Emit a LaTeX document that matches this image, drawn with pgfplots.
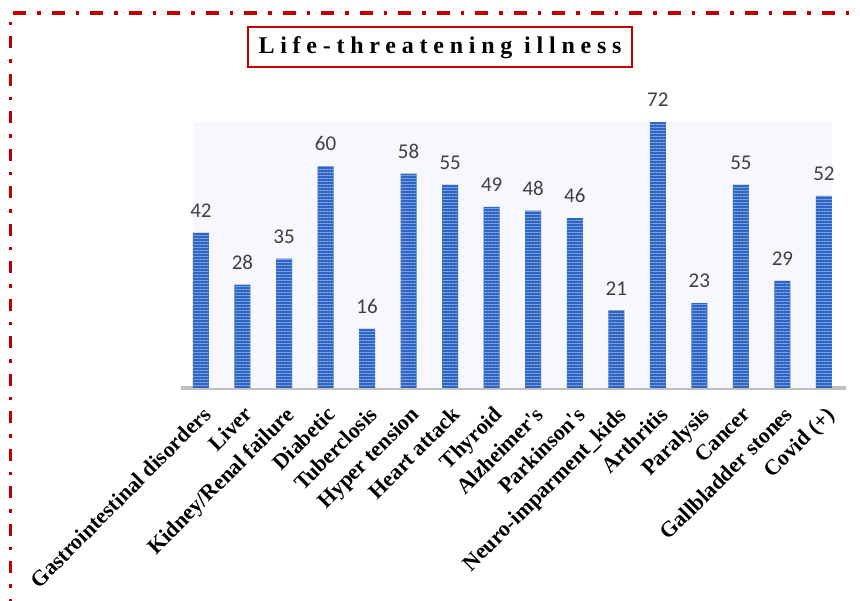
\documentclass[border=0pt]{standalone}
\usepackage{fontspec}
\setmainfont{Liberation Serif}
\newfontfamily\calib{Carlito}
\usepackage{pgfplots}
\pgfplotsset{compat=1.18}
\usetikzlibrary{patterns.meta}
\definecolor{bred}{HTML}{C00000}
\definecolor{barblue}{HTML}{2F66C2}
\definecolor{barlight}{HTML}{7FA5E4}
\definecolor{pale}{HTML}{F7F8FD}
\definecolor{basegray}{HTML}{BFBFBF}
\definecolor{valgray}{HTML}{404040}
\begin{document}
\begin{tikzpicture}[x=1pt,y=1pt]
\path[use as bounding box] (0pt,0pt) rectangle (860pt,601pt);
% dash-dot frame (top and left)
\draw[bred, line width=3.3pt, dash pattern=on 13pt off 11pt on 3.5pt off 11pt]
  (13pt,588pt) -- (862pt,588pt);
\draw[bred, line width=3.3pt, dash pattern=on 3.5pt off 11pt on 12pt off 11pt]
  (10.7pt,579pt) -- (10.7pt,-5pt);
% title
\node[draw=bred, line width=2pt, minimum width=384pt, minimum height=40pt, inner sep=0pt]
  at (440pt,553.5pt) {\fontsize{24}{28}\selectfont\bfseries\addfontfeature{LetterSpace=24}Life-threatening illness};
\begin{axis}[
  at={(181pt,213pt)}, anchor=south west,
  scale only axis, width=665pt, height=266pt,
  xmin=-0.48, xmax=15.53, ymin=0, ymax=72,
  axis y line=none, axis x line=bottom,
  x axis line style={draw=basegray, line width=3.5pt, -},
  xtick={0,...,15}, major tick length=0pt,
  xticklabels={{Gastrointestinal disorders},{Liver},{Kidney/Renal failure},{Diabetic},{Tuberclosis},{Hyper tension},{Heart attack},{Thyroid},{Alzheimer\textquotesingle s},{Parkinson\textquotesingle s},{Neuro-imparment\_kids},{Arthritis},{Paralysis},{Cancer},{Gallbladder stones},{Covid (+)}},
  xticklabel style={font=\fontsize{22}{25}\selectfont\bfseries, inner sep=0pt, yshift=-17pt, xshift=0.5pt, rotate=45, anchor=north east},
  ytick=\empty,
  clip=false,
  ybar, bar width=16pt,
  nodes near coords,
  /pgf/number format/assume math mode=true,
  every node near coord/.append style={font=\calib\fontsize{21}{24}\selectfont, text=valgray, inner sep=0pt, anchor=south, yshift=15pt},
]
\fill[pale] (axis cs:-0.193,0) rectangle (axis cs:15.193,72);
\addplot[draw=none, fill=barblue, postaction={pattern={Lines[angle=0, distance=3pt, line width=0.8pt]}, pattern color=barlight}]
  coordinates {(0,42) (1,28) (2,35) (3,60) (4,16) (5,58) (6,55) (7,49) (8,48) (9,46) (10,21) (11,72) (12,23) (13,55) (14,29) (15,52)};
\end{axis}
\end{tikzpicture}
\end{document}
